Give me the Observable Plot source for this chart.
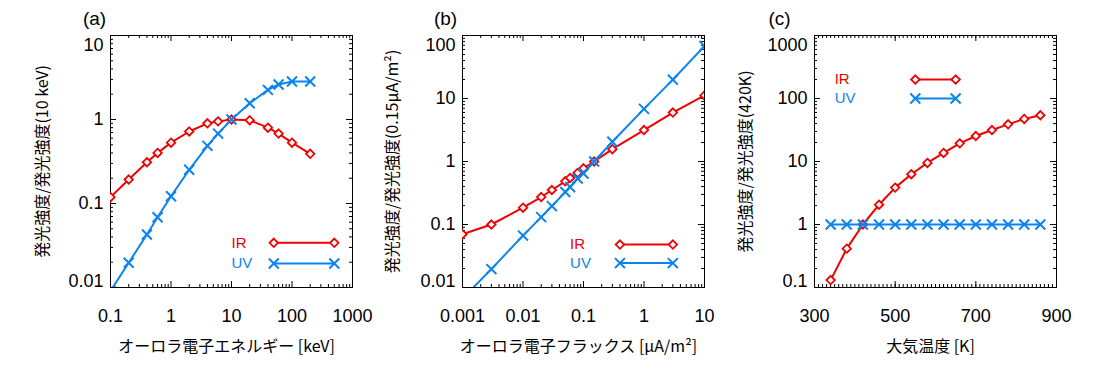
<!DOCTYPE html>
<html><head><meta charset="utf-8">
<script src="https://cdn.jsdelivr.net/npm/d3@7"></script>
<script src="https://cdn.jsdelivr.net/npm/@observablehq/plot@0.6"></script>
<style>
body{margin:0;background:#fff;}
#row{display:flex;width:1100px;height:380px;}
#row svg{overflow:visible;flex:none;}
</style></head><body><div id="row"></div>
<script>
// ---- data (a): electron energy [keV]
const energyKeV = [0.1, 0.2, 0.4, 0.6, 1, 2, 4, 6, 10, 20, 40, 60, 100, 200];
const energyIR  = [0.119, 0.193, 0.31, 0.40, 0.53, 0.72, 0.90, 0.95, 1.0, 0.98, 0.80, 0.68, 0.53, 0.39];
const energyUV  = [0.0091, 0.0197, 0.0428, 0.0687, 0.122, 0.252, 0.486, 0.68, 1.0, 1.56, 2.25, 2.61, 2.83, 2.83];
// ---- data (b): electron flux [uA/m2]
const fluxUA = [0.001, 0.003, 0.01, 0.02, 0.03, 0.05, 0.06, 0.08, 0.1, 0.15, 0.3, 1, 3, 10];
const fluxIR = [0.07, 0.1, 0.185, 0.273, 0.353, 0.485, 0.548, 0.66, 0.78, 1.0, 1.57, 3.16, 5.98, 11.2];
const fluxUV = [0.0067, 0.0196, 0.0667, 0.131, 0.196, 0.328, 0.394, 0.536, 0.644, 1.0, 2.06, 6.84, 19.9, 68];
// ---- data (c): atmospheric temperature [K]
const tempK  = [340, 380, 420, 460, 500, 540, 580, 620, 660, 700, 740, 780, 820, 860];
const tempIR = [0.131, 0.414, 1.0, 2.06, 3.85, 6.28, 9.5, 13.7, 19.4, 25.4, 31.6, 38.9, 47.4, 54.2];
const tempUV = [1, 1, 1, 1, 1, 1, 1, 1, 1, 1, 1, 1, 1, 1];
// ---- tick labels
const xTicksA = [0.1, 1, 10, 100, 1000];
const yTicksA = [0.01, 0.1, 1, 10];
const xTicksB = [0.001, 0.01, 0.1, 1, 10];
const yTicksB = [0.01, 0.1, 1, 10, 100];
const xTicksC = [300, 500, 700, 900];
const yTicksC = [0.1, 1, 10, 100, 1000];
// ---- texts
const seriesNames = ["IR", "UV"];
const panelLabels = ["(a)", "(b)", "(c)"];
const xTitles = ["オーロラ電子エネルギー [keV]", "オーロラ電子フラックス [μA/m²]", "大気温度 [K]"];
const yTitles = ["発光強度/発光強度(10 keV)", "発光強度/発光強度(0.15μA/m²)", "発光強度/発光強度(420K)"];

// ---- style / layout
const RED = "#f00000", BLUE = "#0a84f0";
const FONT = "'Liberation Sans', Arial, sans-serif";
const JFONT = "'Noto Sans CJK JP', sans-serif";
const FW = 242, FH = 252, MT = 35, MB = 93, ML = 110;

function logMinor(majors) {
  const out = [];
  for (let i = 0; i < majors.length - 1; i++) for (let k = 2; k <= 9; k++) out.push(majors[i] * k);
  return out;
}
const rows = (xs, ys) => xs.map((x, i) => ({x, y: ys[i]}));
const fmt = d => String(d);

function tickMarks(vals, len, axis) {
  const base = {stroke: "black", strokeWidth: 1};
  if (axis === "x") return [
    Plot.tickX(vals, {...base, x: d => d, insetTop: FH - len}),
    Plot.tickX(vals, {...base, x: d => d, insetBottom: FH - len})
  ];
  return [
    Plot.tickY(vals, {...base, y: d => d, insetRight: FW - len}),
    Plot.tickY(vals, {...base, y: d => d, insetLeft: FW - len})
  ];
}

function panel(o) {
  const marks = [];
  marks.push(...tickMarks(o.xMinor, 3, "x"), ...tickMarks(o.xTicks, 6, "x"));
  marks.push(...tickMarks(o.yMinor, 3, "y"), ...tickMarks(o.yTicks, 6, "y"));
  marks.push(Plot.frame({stroke: "black", strokeWidth: 1}));
  // x tick labels
  marks.push(Plot.text(o.xTicks, {x: d => d, text: fmt, frameAnchor: "bottom", dy: 28.5, lineAnchor: "middle", fontSize: 18, fontFamily: FONT, fill: "black"}));
  // y tick labels
  const yt = o.yTicks;
  const ylab = {y: d => d, text: fmt, frameAnchor: "left", dx: -7, textAnchor: "end", lineAnchor: "middle", fontSize: 18, fontFamily: FONT, fill: "black"};
  marks.push(Plot.text(yt.slice(1, -1), ylab));
  marks.push(Plot.text([yt[yt.length - 1]], {...ylab, dy: 10}));
  marks.push(Plot.text([yt[0]], {...ylab, dy: -6}));
  // titles
  marks.push(Plot.text([o.xTitle], {frameAnchor: "bottom", dx: -5, dy: 59, textAnchor: "middle", lineAnchor: "middle", fontSize: 16, fontFamily: JFONT, fill: "black"}));
  marks.push(Plot.text([o.yTitle], {frameAnchor: "left", dx: o.yTitleDx, rotate: -90, textAnchor: "middle", lineAnchor: "middle", fontSize: 16, fontFamily: JFONT, fill: "black"}));
  marks.push(Plot.text([o.label], {frameAnchor: "top-left", dx: o.labelDx, dy: -17, lineAnchor: "middle", textAnchor: "middle", fontSize: 19, fontFamily: FONT, fill: "black"}));
  // series
  const ir = rows(o.xs, o.ir), uv = rows(o.xs, o.uv);
  const irDot = {x: "x", y: "y", symbol: "diamond2", r: 3.8, stroke: RED, strokeWidth: 1.8, fill: "white"};
  const uvDot = {x: "x", y: "y", symbol: "times", r: 4.6, stroke: BLUE, strokeWidth: 2};
  marks.push(Plot.line(ir, {x: "x", y: "y", stroke: RED, strokeWidth: 2, clip: true}));
  marks.push(Plot.dot(ir, {...irDot, clip: true}));
  marks.push(Plot.line(uv, {x: "x", y: "y", stroke: BLUE, strokeWidth: 2, clip: true}));
  marks.push(Plot.dot(uv, {...uvDot, clip: true}));
  // legend (annotation placed in data coordinates)
  const L = o.legend;
  const legIR = [{x: L.x1, y: L.yIR}, {x: L.x2, y: L.yIR}];
  const legUV = [{x: L.x1, y: L.yUV}, {x: L.x2, y: L.yUV}];
  marks.push(Plot.text([seriesNames[0]], {x: L.tx, y: L.yIR, textAnchor: "start", lineAnchor: "middle", fill: RED, fontSize: 15, fontFamily: FONT}));
  marks.push(Plot.text([seriesNames[1]], {x: L.tx, y: L.yUV, textAnchor: "start", lineAnchor: "middle", fill: BLUE, fontSize: 15, fontFamily: FONT}));
  marks.push(Plot.line(legIR, {x: "x", y: "y", stroke: RED, strokeWidth: 2}));
  marks.push(Plot.dot(legIR, irDot));
  marks.push(Plot.line(legUV, {x: "x", y: "y", stroke: BLUE, strokeWidth: 2}));
  marks.push(Plot.dot(legUV, uvDot));

  return Plot.plot({
    width: ML + FW + o.mr, height: MT + FH + MB,
    marginLeft: ML, marginRight: o.mr, marginTop: MT, marginBottom: MB,
    x: {type: o.xType, domain: o.xDomain, axis: null},
    y: {type: "log", domain: o.yDomain, axis: null},
    style: {fontFamily: FONT, overflow: "visible", color: "black"},
    marks
  });
}

const row = document.getElementById("row");
row.append(panel({
  xs: energyKeV, ir: energyIR, uv: energyUV,
  xType: "log", xDomain: [0.1, 1000], yDomain: [0.01, 10],
  xTicks: xTicksA, xMinor: logMinor(xTicksA), yTicks: yTicksA, yMinor: logMinor(yTicksA),
  xTitle: xTitles[0], yTitle: yTitles[0], yTitleDx: -68, label: panelLabels[0], labelDx: -16, mr: 0,
  legend: {tx: 10, x1: 50, x2: 500, yIR: 0.034, yUV: 0.0193}
}));
row.append(panel({
  xs: fluxUA, ir: fluxIR, uv: fluxUV,
  xType: "log", xDomain: [0.001, 10], yDomain: [0.01, 100],
  xTicks: xTicksB, xMinor: logMinor(xTicksB), yTicks: yTicksB, yMinor: logMinor(yTicksB),
  xTitle: xTitles[1], yTitle: yTitles[1], yTitleDx: -70, label: panelLabels[1], labelDx: -17, mr: 0,
  legend: {tx: 0.06, x1: 0.4, x2: 3, yIR: 0.048, yUV: 0.0244}
}));
row.append(panel({
  xs: tempK, ir: tempIR, uv: tempUV,
  xType: "linear", xDomain: [300, 900], yDomain: [0.1, 1000],
  xTicks: xTicksC, xMinor: d3.range(300, 901, 10), yTicks: yTicksC, yMinor: logMinor(yTicksC),
  xTitle: xTitles[2], yTitle: yTitles[2], yTitleDx: -69, label: panelLabels[2], labelDx: -35, mr: 44,
  legend: {tx: 350, x1: 550, x2: 650, yIR: 200, yUV: 100}
}));
</script></body></html>
